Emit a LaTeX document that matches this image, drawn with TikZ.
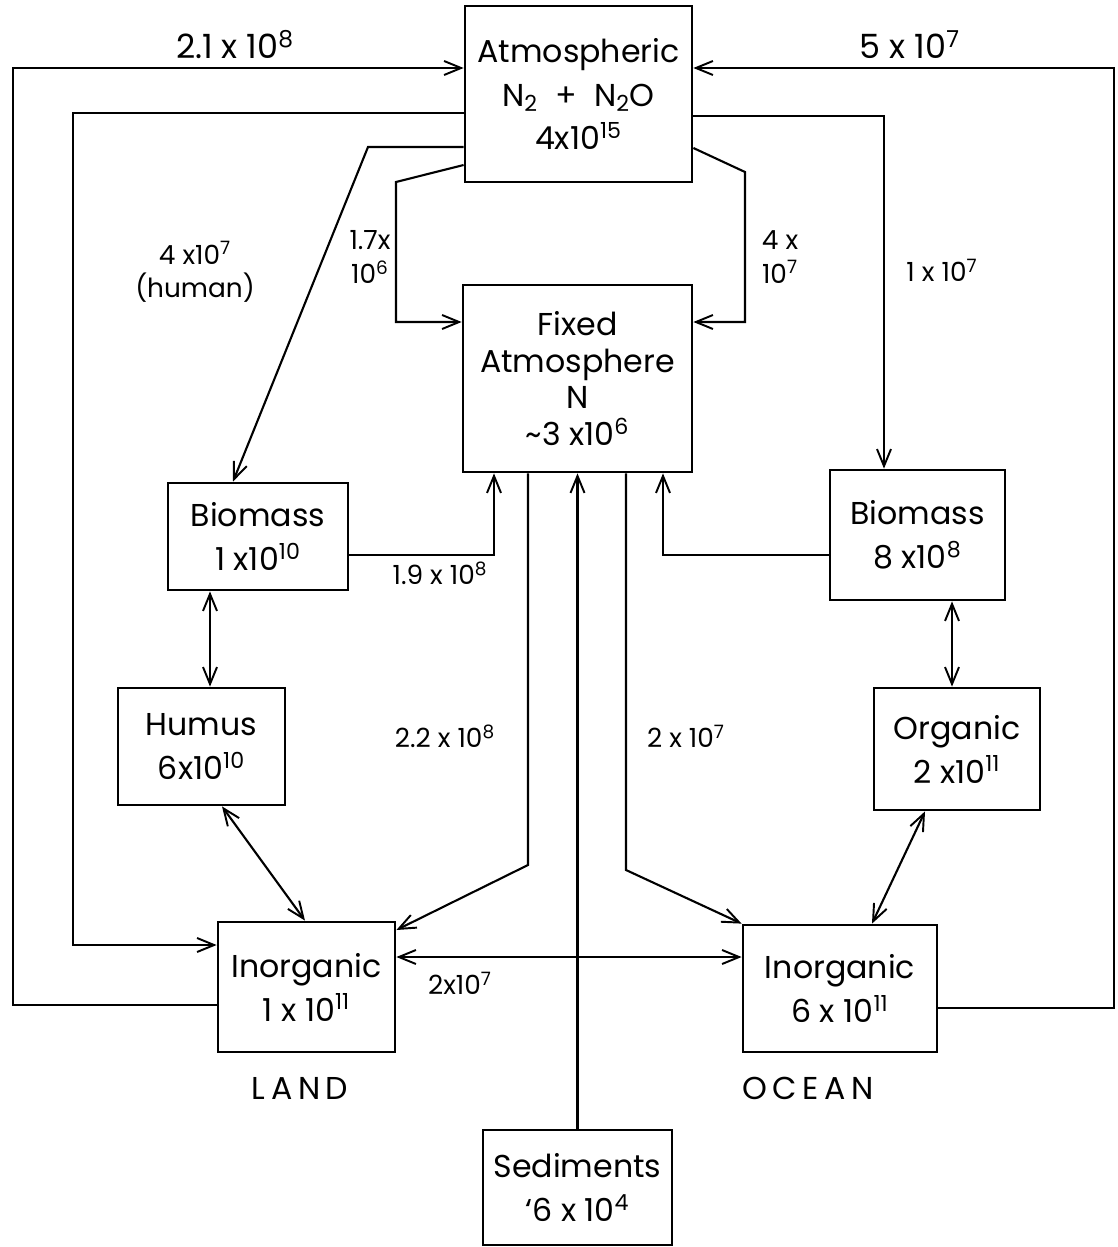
\documentclass[tikz,border=0pt]{standalone}
\usepackage{fontspec}
\setmainfont{Poppins}
\usetikzlibrary{arrows.meta,positioning}

\tikzset{
  box/.style={rectangle,draw,line width=1.6pt,align=center,inner sep=0pt,font=\fontsize{18}{25}\selectfont},
  tip/.tip={Straight Barb[length=3.4mm,width=2.8mm,line width=1.1pt]},
  flow/.style={line width=1.2pt,-tip},
  both/.style={line width=1.2pt,tip-tip},
  lbl/.style={font=\fontsize{15}{19}\selectfont,align=center,inner sep=0pt},
  biglbl/.style={font=\fontsize{19}{22}\selectfont,inner sep=0pt},
  region/.style={font=\fontsize{18}{20}\selectfont\addfontfeature{LetterSpace=18},inner sep=0pt},
}

\begin{document}
\begin{tikzpicture}[x=0.02cm,y=-0.02cm]
\useasboundingbox (0,0) rectangle (1117,1247);

% Reservoirs
\node[box,minimum width=4.54cm,minimum height=3.52cm] (atm) at (578.5,94) {Atmospheric\\N\textsubscript{2} \;+\; N\textsubscript{2}O\\4x10\textsuperscript{15}};
\node[box,minimum width=4.58cm,minimum height=3.74cm,font=\fontsize{18}{21}\selectfont] (fix) at (577.5,378.5) {Fixed\\Atmosphere\\N\\\textasciitilde 3 x10\textsuperscript{6}};
\node[box,minimum width=3.6cm,minimum height=2.14cm] (bml) at (258,536.5) {Biomass\\1 x10\textsuperscript{10}};
\node[box,minimum width=3.34cm,minimum height=2.34cm] (hum) at (201.5,746.5) {Humus\\6x10\textsuperscript{10}};
\node[box,minimum width=3.54cm,minimum height=2.6cm] (inl) at (306.5,987) {Inorganic\\1 x 10\textsuperscript{11}};
\node[box,minimum width=3.5cm,minimum height=2.6cm] (bmo) at (917.5,535) {Biomass\\8 x10\textsuperscript{8}};
\node[box,minimum width=3.32cm,minimum height=2.44cm] (org) at (957,749) {Organic\\2 x10\textsuperscript{11}};
\node[box,minimum width=3.88cm,minimum height=2.54cm] (ino) at (840,988.5) {Inorganic\\6 x 10\textsuperscript{11}};
\node[box,minimum width=3.78cm,minimum height=2.3cm] (sed) at (577.5,1187.5) {Sediments\\\textquoteleft 6 x 10\textsuperscript{4}};

% Fluxes to and from the atmosphere
\draw[flow] (inl.west |- 0,1005) -| (13,68) -- (atm.west |- 0,68);
\draw[flow] (atm.west |- 0,113) -| (73,945) -- (inl.west |- 0,945);
\draw[flow] (atm.west |- 0,147) -- (368,147) -- (bml.north -| 233,0);
\draw[flow] (atm.west |- 0,165) -- (396,182) |- (fix.west |- 0,322);
\draw[flow] (atm.east |- 0,148) -- (745,172) |- (fix.east |- 0,322);
\draw[flow] (atm.east |- 0,116) -| (bmo.north -| 884,0);
\draw[flow] (ino.east |- 0,1008) -| (1114,68) -- (atm.east |- 0,68);

% Fixed nitrogen
\draw[flow] (bml.east |- 0,555) -| (fix.south -| 494,0);
\draw[flow] (bmo.west |- 0,555) -| (fix.south -| 663,0);
\draw[flow] (fix.south -| 528,0) -- (528,865) -- (inl.east |- 0,930);
\draw[flow] (fix.south -| 626,0) -- (626,870) -- (ino.north west);
\draw[flow] (sed.north) -- (fix.south);

% Exchanges
\draw[both] (bml.south -| 210,0) -- (hum.north -| 210,0);
\draw[both] (hum.south -| 222,0) -- (inl.north -| 305,0);
\draw[both] (inl.east |- 0,957) -- (ino.west |- 0,957);
\draw[both] (bmo.south -| 952,0) -- (org.north -| 952,0);
\draw[both] (org.south -| 925,0) -- (ino.north -| 872,0);

% Flux labels
\node[biglbl] (l1) at (235,45) {2.1 x 10\textsuperscript{8}};
\node[biglbl] (l2) at (910,45) {5 x 10\textsuperscript{7}};
\node[lbl] (l3) at (195,272) {4 x10\textsuperscript{7}\\(human)};
\node[lbl] (l4) at (370,257) {1.7x\\10\textsuperscript{6}};
\node[lbl] (l5) at (780,257) {4 x\\10\textsuperscript{7}};
\node[lbl] (l6) at (942,270) {1 x 10\textsuperscript{7}};
\node[lbl] (l7) at (440,573) {1.9 x 10\textsuperscript{8}};
\node[lbl] (l8) at (445,736) {2.2 x 10\textsuperscript{8}};
\node[lbl] (l9) at (686,736) {2 x 10\textsuperscript{7}};
\node[lbl] (l10) at (460,983) {2x10\textsuperscript{7}};

% Regions
\node[region] (land) at (300,1088) {LAND};
\node[region] (ocean) at (808,1088) {OCEAN};

\end{tikzpicture}
\end{document}
